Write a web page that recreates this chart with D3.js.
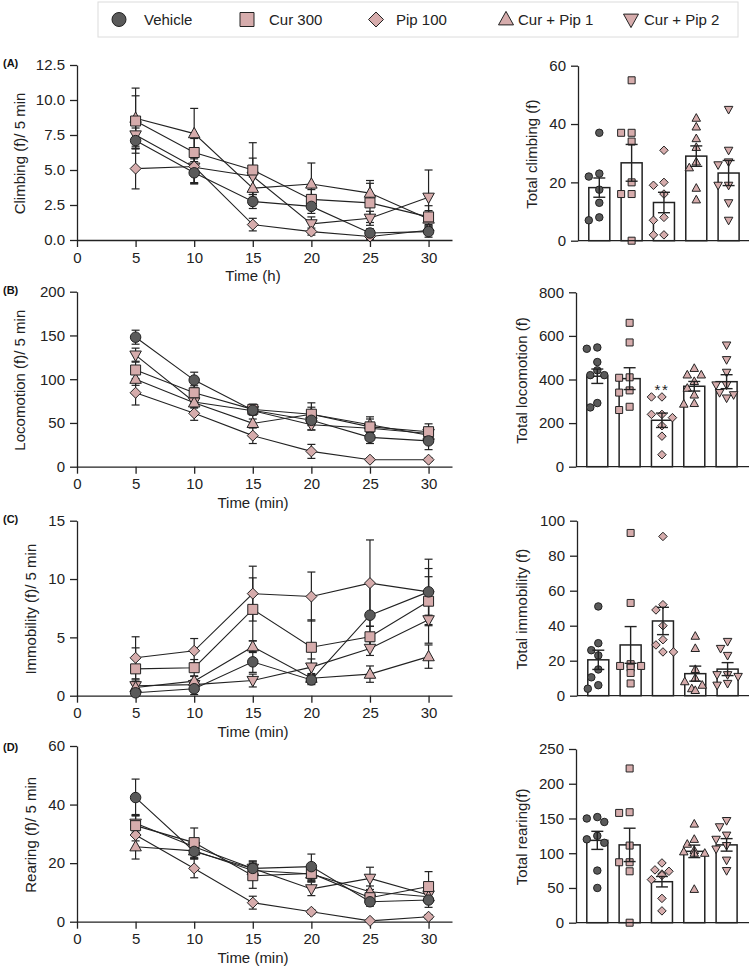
<!DOCTYPE html>
<html><head><meta charset="utf-8">
<script src="https://cdn.jsdelivr.net/npm/d3@7"></script>
<style>body{margin:0;background:#fff} svg{display:block;font-family:"Liberation Sans",Arial,sans-serif}</style>
</head><body><svg id="c" width="750" height="969"></svg>
<script>
// ---------------- DATA ----------------
const groups = ["Vehicle", "Cur 300", "Pip 100", "Cur + Pip 1", "Cur + Pip 2"];
const timePoints = [5, 10, 15, 20, 25, 30];
const xTickValues = [0, 5, 10, 15, 20, 25, 30];

// (A) Climbing
const climbingMean = [
  [7.1, 4.8, 2.75, 2.4, 0.5, 0.6],
  [8.5, 6.25, 5.0, 2.9, 2.65, 1.65],
  [5.1, 5.25, 1.1, 0.6, 0.25, 0.7],
  [8.7, 7.6, 3.7, 4.0, 3.35, 1.5],
  [7.5, 5.2, 4.55, 1.15, 1.55, 3.05]];
const climbingSem = [
  [0.9, 0.8, 0.5, 0.5, 0.3, 0.4],
  [1.8, 1.0, 1.95, 0.7, 1.4, 0.8],
  [1.45, 1.2, 0.45, 0.25, 0.2, 0.3],
  [2.15, 1.8, 0.8, 1.5, 0.9, 0.6],
  [1.0, 1.1, 1.3, 0.5, 0.5, 1.95]];
const climbingTicks = [0, 2.5, 5, 7.5, 10, 12.5];
const climbingTotals = [
  [37, 23, 22, 17.5, 13, 8, 7],
  [55, 37, 37, 34, 20, 16, 16, 0],
  [31, 20, 19, 16, 8, 7, 2, 2],
  [42, 39, 35, 32, 27, 25, 18, 14],
  [45, 31, 27, 26, 19, 19, 13, 7]];
const climbingTotalMean = [18.2, 26.7, 13.1, 29.0, 23.2];
const climbingTotalSem = [3.3, 6.3, 3.5, 3.5, 4.3];
const climbingTotalTicks = [0, 20, 40, 60];

// (B) Locomotion
const locomotionMean = [
  [148, 99, 64.5, 53, 33.5, 29.5],
  [110.5, 84.5, 65.5, 60, 45.5, 40],
  [84.5, 61, 35.5, 17.5, 8, 8],
  [100, 73, 49.5, 60, 48, 36],
  [127.5, 74, 64, 48, 44, 38]];
const locomotionSem = [
  [8, 9, 5, 11, 7, 10],
  [10, 8, 6, 13, 9, 9],
  [14, 8, 9, 8, 2, 2],
  [7, 6, 5, 8, 9, 6],
  [8, 6, 5, 6, 5, 5]];
const locomotionTicks = [0, 50, 100, 150, 200];
const locomotionTotals = [
  [547, 541, 480, 442, 420, 420, 292, 272],
  [660, 570, 410, 408, 350, 340, 275, 260],
  [320, 320, 240, 240, 225, 188, 140, 55],
  [451, 421, 421, 391, 360, 329, 290, 287],
  [558, 491, 433, 375, 375, 340, 330, 315]];
const locomotionTotalMean = [415, 404, 213, 369, 390];
const locomotionTotalSem = [33, 50, 33, 22, 32];
const locomotionTotalTicks = [0, 200, 400, 600, 800];
const locomotionSig = ["", "", "**", "", ""];

// (C) Immobility
const immobilityMean = [
  [0.25, 0.6, 2.9, 1.35, 6.9, 8.9],
  [2.3, 2.4, 7.4, 4.15, 5.05, 8.1],
  [3.25, 3.85, 8.75, 8.5, 9.65, 8.9],
  [0.7, 1.25, 4.2, 1.5, 1.85, 3.35],
  [0.85, 0.95, 1.3, 2.45, 4.05, 6.5]];
const immobilitySem = [
  [0.3, 0.5, 0.9, 0.4, 2.8, 2.8],
  [1.8, 0.7, 2.7, 2.35, 0.9, 2.1],
  [1.8, 1.05, 2.35, 2.1, 3.7, 2.0],
  [0.5, 0.4, 0.5, 0.4, 0.7, 1.0],
  [0.5, 0.4, 0.55, 0.7, 0.6, 2.0]];
const immobilityTicks = [0, 5, 10, 15];
const immobilityTotals = [
  [51, 30, 26, 23, 15, 10.5, 6, 4],
  [93, 53, 18, 17, 17, 16, 13, 7],
  [91, 52, 49, 40, 32, 29, 25, 25],
  [34, 27, 15, 10, 8, 6, 4, 3],
  [31, 27, 23, 12, 12, 11, 7, 6]];
const immobilityTotalMean = [20.5, 29, 42.7, 12.6, 15.2];
const immobilityTotalSem = [5.5, 10.5, 7.8, 4.3, 3.7];
const immobilityTotalTicks = [0, 20, 40, 60, 80, 100];

// (D) Rearing
const rearingMean = [
  [42.4, 24, 18.2, 18.8, 6.8, 7.4],
  [32.8, 27, 15.7, 16.5, 8.2, 12],
  [29.6, 18.2, 6.5, 3.4, 0.3, 1.7],
  [25.6, 24.2, 17.5, 16.3, 10.2, 8.5],
  [33.6, 25.6, 18.2, 11.2, 14.8, 9.1]];
const rearingSem = [
  [6.3, 2.5, 2.5, 4.3, 1.5, 2.5],
  [3.5, 5, 4.3, 2.5, 2, 5.1],
  [2, 3.2, 2.2, 0.7, 0.3, 0.7],
  [4.2, 2.5, 2.5, 2.5, 2, 2],
  [3, 2.5, 2.5, 2.3, 3.8, 2.5]];
const rearingTicks = [0, 20, 40, 60];
const rearingTotals = [
  [152, 150, 145, 125, 120, 115, 75, 50],
  [222, 159, 158, 111, 87, 87, 74, 0],
  [86, 76, 74, 70, 68, 62, 35, 17],
  [142, 120, 113, 104, 102, 100, 100, 48],
  [147, 138, 126, 120, 111, 106, 90, 75]];
const rearingTotalMean = [118.5, 112, 59, 102.7, 112];
const rearingTotalSem = [13, 24, 7.5, 9, 9];
const rearingTotalTicks = [0, 50, 100, 150, 200, 250];

// ---------------- STYLE / LAYOUT ----------------
const shapes = ["circle", "square", "diamond", "up", "down"];
const fills = ["#5a5a5a", "#d6acac", "#d6acac", "#d6acac", "#d6acac"];
const ink = "#222";

function shapePath(shape, s) {
  const h = s / 2;
  switch (shape) {
    case "circle": return `M${h},0A${h},${h} 0 1,1 ${-h},0A${h},${h} 0 1,1 ${h},0Z`;
    case "square": return `M${-h},${-h}H${h}V${h}H${-h}Z`;
    case "diamond": return `M0,${-h}L${h},0L0,${h}L${-h},0Z`;
    case "up": { const t = s * 0.9; return `M0,${-t * 0.6}L${h},${t * 0.4}L${-h},${t * 0.4}Z`; }
    case "down": { const t = s * 0.9; return `M0,${t * 0.6}L${h},${-t * 0.4}L${-h},${-t * 0.4}Z`; }
  }
}
const leftSize = {circle: 10.5, square: 10, diamond: 11, up: 11.5, down: 11.5};
const rightSize = {circle: 7.5, square: 7, diamond: 8.5, up: 8.5, down: 8.5};
const legendSize = {circle: 14, square: 14, diamond: 15, up: 15, down: 15};

const svg = d3.select("#c");

// Legend
svg.append("rect").attr("x", 98).attr("y", 2).attr("width", 640).attr("height", 35)
  .attr("fill", "#fff").attr("stroke", "#dcdcdc").attr("stroke-width", 1);
const legendLayout = [[119, 144], [247, 269], [376, 396], [506, 518], [631, 644]];
groups.forEach((g, i) => {
  svg.append("path").attr("d", shapePath(shapes[i], legendSize[shapes[i]]))
    .attr("transform", `translate(${legendLayout[i][0]},19.5)`)
    .attr("fill", fills[i]).attr("stroke", ink).attr("stroke-width", 1);
  svg.append("text").attr("x", legendLayout[i][1]).attr("y", 24.5).attr("font-size", 15)
    .attr("fill", ink).text(g);
});

const panels = [
  {letter: "(A)", letterY: 67, mean: climbingMean, sem: climbingSem, ticks: climbingTicks, fmt: d3.format(".1f"),
   ylabel: "Climbing (f)/ 5 min", xlabel: "Time (h)", y0: 240, y1: 65, ylabX: 21,
   totals: climbingTotals, tMean: climbingTotalMean, tSem: climbingTotalSem, tTicks: climbingTotalTicks,
   ry0: 240.7, ry1: 65.7, rAxisX: 578, rlabel: "Total climbing (f)", rlabX: 533, sig: null},
  {letter: "(B)", letterY: 294, mean: locomotionMean, sem: locomotionSem, ticks: locomotionTicks, fmt: d3.format("d"),
   ylabel: "Locomotion (f)/ 5 min", xlabel: "Time (min)", y0: 466.7, y1: 291.7, ylabX: 21,
   totals: locomotionTotals, tMean: locomotionTotalMean, tSem: locomotionTotalSem, tTicks: locomotionTotalTicks,
   ry0: 466.7, ry1: 292.3, rAxisX: 576, rlabel: "Total locomotion (f)", rlabX: 523, sig: locomotionSig},
  {letter: "(C)", letterY: 523, mean: immobilityMean, sem: immobilitySem, ticks: immobilityTicks, fmt: d3.format("d"),
   ylabel: "Immobility (f)/ 5 min", xlabel: "Time (min)", y0: 695.7, y1: 520.7, ylabX: 32,
   totals: immobilityTotals, tMean: immobilityTotalMean, tSem: immobilityTotalSem, tTicks: immobilityTotalTicks,
   ry0: 695.7, ry1: 520.7, rAxisX: 577, rlabel: "Total immobility (f)", rlabX: 523, sig: null},
  {letter: "(D)", letterY: 751, mean: rearingMean, sem: rearingSem, ticks: rearingTicks, fmt: d3.format("d"),
   ylabel: "Rearing (f)/ 5 min", xlabel: "Time (min)", y0: 921.7, y1: 746, ylabX: 32,
   totals: rearingTotals, tMean: rearingTotalMean, tSem: rearingTotalSem, tTicks: rearingTotalTicks,
   ry0: 922.7, ry1: 749, rAxisX: 576, rlabel: "Total rearing(f)", rlabX: 523, sig: null}
];

function styleAxis(g) {
  g.selectAll("path,line").attr("stroke", ink).attr("stroke-width", 1.3);
  g.selectAll("text").attr("fill", ink).attr("font-size", 15)
    .attr("font-family", '"Liberation Sans",Arial,sans-serif');
}

panels.forEach(p => {
  // ---- left: time course ----
  const x = d3.scaleLinear().domain([0, 32]).range([77, 452]);
  const y = d3.scaleLinear().domain([0, d3.max(p.ticks)]).range([p.y0, p.y1]);

  svg.append("text").attr("x", 3).attr("y", p.letterY).attr("font-size", 11)
    .attr("font-weight", "bold").attr("fill", "#111").text(p.letter);

  const gx = svg.append("g").attr("transform", `translate(0,${p.y0})`)
    .call(d3.axisBottom(x).tickValues(xTickValues).tickSize(7).tickSizeOuter(0).tickPadding(5).tickFormat(d3.format("d")));
  styleAxis(gx);
  const gy = svg.append("g").attr("transform", `translate(77,0)`)
    .call(d3.axisLeft(y).tickValues(p.ticks).tickSize(7).tickSizeOuter(0).tickPadding(5).tickFormat(p.fmt));
  styleAxis(gy);

  svg.append("text").attr("x", 253).attr("y", p.y0 + 41).attr("text-anchor", "middle")
    .attr("font-size", 15).attr("fill", ink).text(p.xlabel);
  svg.append("text").attr("transform", `translate(${p.ylabX},${(p.y0 + p.y1) / 2 + 1}) rotate(-90)`)
    .attr("text-anchor", "middle").attr("dominant-baseline", "middle")
    .attr("font-size", 15).attr("fill", ink).text(p.ylabel);

  const plot = svg.append("g");
  // error bars
  p.mean.forEach((ser, gi) => {
    ser.forEach((m, ti) => {
      const cx = x(timePoints[ti]);
      const lo = y(Math.max(0, m - p.sem[gi][ti])), hi = y(m + p.sem[gi][ti]);
      plot.append("line").attr("x1", cx).attr("x2", cx).attr("y1", lo).attr("y2", hi)
        .attr("stroke", ink).attr("stroke-width", 1.2);
      [lo, hi].forEach(v => plot.append("line").attr("x1", cx - 4).attr("x2", cx + 4)
        .attr("y1", v).attr("y2", v).attr("stroke", ink).attr("stroke-width", 1.2));
    });
  });
  // lines
  const line = d3.line().x((d, i) => x(timePoints[i])).y(d => y(d));
  p.mean.forEach(ser => {
    plot.append("path").attr("d", line(ser)).attr("fill", "none")
      .attr("stroke", ink).attr("stroke-width", 1.1);
  });
  // markers (Vehicle on top)
  [4, 3, 2, 1, 0].forEach(gi => {
    p.mean[gi].forEach((m, ti) => {
      plot.append("path").attr("d", shapePath(shapes[gi], leftSize[shapes[gi]]))
        .attr("transform", `translate(${x(timePoints[ti])},${y(m)})`)
        .attr("fill", fills[gi]).attr("stroke", ink).attr("stroke-width", 1);
    });
  });

  // ---- right: totals ----
  const ry = d3.scaleLinear().domain([0, d3.max(p.tTicks)]).range([p.ry0, p.ry1]);
  const bx = d3.scalePoint().domain(groups).range([p.rAxisX + 21.3, p.rAxisX + 150.6]);
  const bw = 21;

  const rg = svg.append("g");
  groups.forEach((g, gi) => {
    const cx = bx(g);
    rg.append("rect").attr("x", cx - bw / 2).attr("y", ry(p.tMean[gi]))
      .attr("width", bw).attr("height", p.ry0 - ry(p.tMean[gi]))
      .attr("fill", "#fff").attr("stroke", ink).attr("stroke-width", 1.5);
  });
  // points via simple beeswarm
  const r = 3.8;
  groups.forEach((g, gi) => {
    const cx = bx(g);
    const placed = [];
    p.totals[gi].forEach(v => {
      const py = ry(v);
      const cands = [0, -7, 7, -3.5, 3.5, -10.5, 10.5];
      let off = cands[0];
      for (const c of cands) {
        if (placed.every(q => Math.hypot(q[0] - c, q[1] - py) >= 2 * r + 0.6)) { off = c; break; }
      }
      placed.push([off, py]);
      rg.append("path").attr("d", shapePath(shapes[gi], rightSize[shapes[gi]]))
        .attr("transform", `translate(${cx + off},${py})`)
        .attr("fill", fills[gi]).attr("stroke", ink).attr("stroke-width", 1);
    });
  });
  // error bars on bars
  groups.forEach((g, gi) => {
    const cx = bx(g);
    const lo = ry(p.tMean[gi] - p.tSem[gi]), hi = ry(p.tMean[gi] + p.tSem[gi]);
    rg.append("line").attr("x1", cx).attr("x2", cx).attr("y1", lo).attr("y2", hi)
      .attr("stroke", ink).attr("stroke-width", 1.4);
    [lo, hi].forEach(v => rg.append("line").attr("x1", cx - 6).attr("x2", cx + 6)
      .attr("y1", v).attr("y2", v).attr("stroke", ink).attr("stroke-width", 1.4));
    if (p.sig && p.sig[gi]) {
      rg.append("text").attr("x", cx).attr("y", ry(d3.max(p.totals[gi])) - 2)
        .attr("text-anchor", "middle").attr("font-size", 15).attr("letter-spacing", 1.5)
        .attr("fill", ink).text(p.sig[gi]);
    }
  });

  const gry = svg.append("g").attr("transform", `translate(${p.rAxisX},0)`)
    .call(d3.axisLeft(ry).tickValues(p.tTicks).tickSize(7).tickSizeOuter(0).tickPadding(5).tickFormat(d3.format("d")));
  styleAxis(gry);
  svg.append("line").attr("x1", p.rAxisX).attr("x2", 749).attr("y1", p.ry0).attr("y2", p.ry0)
    .attr("stroke", ink).attr("stroke-width", 1.3);
  svg.append("text").attr("transform", `translate(${p.rlabX},${(p.ry0 + p.ry1) / 2 + 1}) rotate(-90)`)
    .attr("text-anchor", "middle").attr("dominant-baseline", "middle")
    .attr("font-size", 15).attr("fill", ink).text(p.rlabel);
});
</script></body></html>
